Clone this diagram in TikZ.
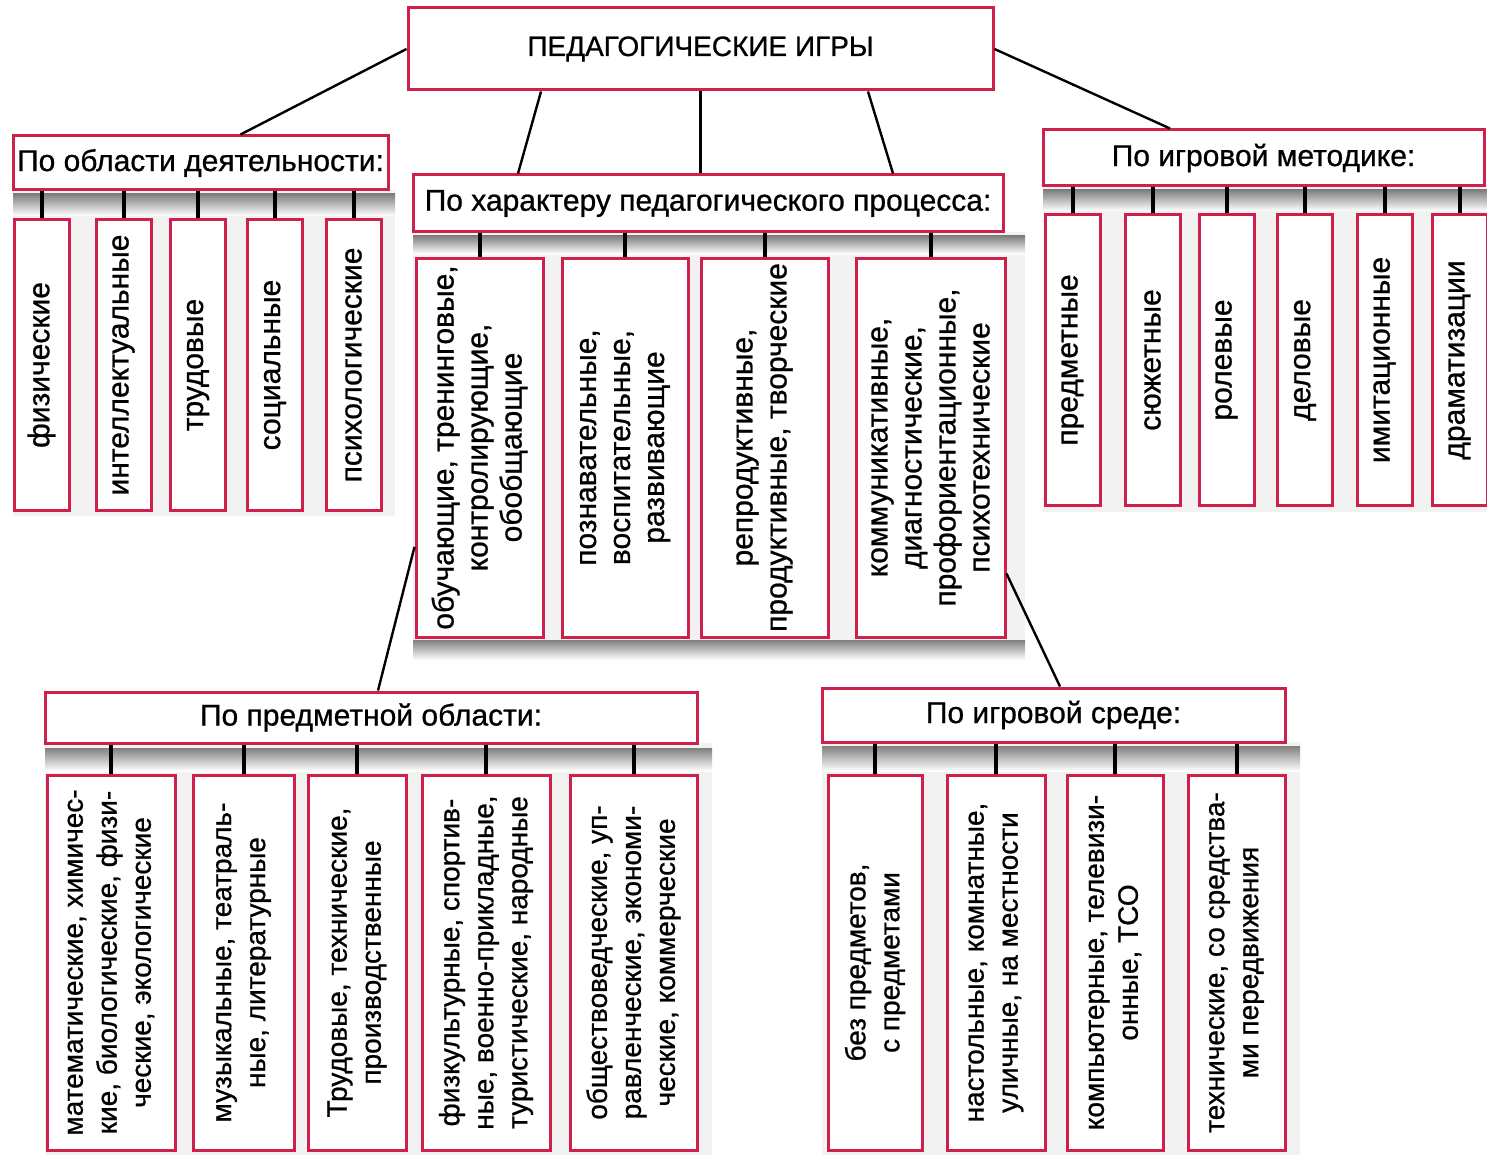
\documentclass[tikz,border=0pt]{standalone}
\usepackage{fontspec}
\setmainfont{Liberation Sans}[FakeBold=0.8]
\usetikzlibrary{calc}
\definecolor{boxred}{RGB}{206,32,74}
\definecolor{shade}{RGB}{200,204,200}

\begin{document}
\begin{tikzpicture}[x=0.5pt, y=-0.5pt,
		rootnode/.style={draw=boxred, line width=1.5pt, fill=white, minimum width=292.5pt, minimum height=41pt, font=\fontsize{14}{16}\selectfont},
		headnode/.style={draw=boxred, line width=1.5pt, fill=white, minimum height=27pt, inner sep=0pt, font=\fontsize{15}{17}\selectfont},
		itemnode/.style={draw=boxred, line width=1.5pt, fill=white, rotate=90, align=center, inner sep=0pt, font=\fontsize{15}{17}\selectfont},
		shortitem/.style={itemnode, minimum width=145pt, minimum height=27.5pt},
		longitem/.style={itemnode, minimum width=189.5pt},
		loweritem/.style={itemnode, minimum width=187.5pt, font=\fontsize{14}{17}\selectfont},
		link/.style={line width=1.2pt},
		tick/.style={line width=2pt},
		]
		\useasboundingbox[fill=white] (0,0) rectangle (1487,1155);
		
		%Shading
		\fill[gray!10] (13,190) rectangle (395,516);
		\fill[gray!10] (413,232) rectangle (1025,660);
		\fill[gray!10] (1043,186) rectangle (1487,512);
		\fill[gray!10] (45,743) rectangle (712,1155);
		\fill[gray!10] (822,742) rectangle (1300,1155);
		\fill[shade] (13,194) rectangle (395,216);
		\fill[shade] (413,236) rectangle (1025,254);
		\fill[shade] (413,640) rectangle (1025,660);
		\fill[shade] (1043,190) rectangle (1487,211);
		\fill[shade] (45,748) rectangle (712,771);
		\fill[shade] (822,746) rectangle (1300,771);
		
		%Nodes
		\node[rootnode] (root) at (700.5,49) {ПЕДАГОГИЧЕСКИЕ ИГРЫ};
		
		\node[headnode, minimum width=187.5pt] (hA) at (200.5,163) {По области деятельности:};
		\node[headnode, minimum width=295pt, minimum height=28.5pt] (hB) at (708,203.5) {По характеру педагогического процесса:};
		\node[headnode, minimum width=220.5pt, minimum height=28pt] (hC) at (1263.5,158) {По игровой методике:};
		\node[headnode, minimum width=326pt, minimum height=25.5pt] (hD) at (371,717.5) {По предметной области:};
		\node[headnode, minimum width=231.5pt] (hE) at (1053.5,715) {По игровой среде:};
		
		\node[shortitem] (a1) at (41.5,365) {физические};
		\node[shortitem] (a2) at (123.5,365) {интеллектуальные};
		\node[shortitem] (a3) at (198,365) {трудовые};
		\node[shortitem] (a4) at (275,365) {социальные};
		\node[shortitem] (a5) at (353.5,365) {психологические};
		
		\node[longitem, minimum height=63.5pt] (b1) at (479.5,447.5) {обучающие, тренинговые,\\ контролирующие,\\ обобщающие};
		\node[longitem, minimum height=63pt] (b2) at (625,447.5) {познавательные,\\ воспитательные,\\ развивающие};
		\node[longitem, minimum height=63.5pt] (b3) at (764.5,447.5) {репродуктивные,\\ продуктивные, творческие};
		\node[longitem, minimum height=74.5pt] (b4) at (930.5,447.5) {коммуникативные,\\ диагностические,\\ профориентационные,\\ психотехнические};
		
		\node[shortitem] (c1) at (1072.5,360) {предметные};
		\node[shortitem] (c2) at (1152.5,360) {сюжетные};
		\node[shortitem] (c3) at (1226.5,360) {ролевые};
		\node[shortitem] (c4) at (1305,360) {деловые};
		\node[shortitem] (c5) at (1384.5,360) {имитационные};
		\node[shortitem] (c6) at (1459.5,360) {драматизации};
		
		\node[loweritem, minimum height=64pt] (d1) at (111,962.5) {математические, химичес-\\ кие, биологические, физи-\\ ческие, экологические};
		\node[loweritem, minimum height=50.5pt] (d2) at (243.5,962.5) {музыкальные, театраль-\\ ные, литературные};
		\node[loweritem, minimum height=49pt] (d3) at (357,962.5) {Трудовые, технические,\\ производственные};
		\node[loweritem, minimum height=64pt] (d4) at (486,962.5) {физкультурные, спортив-\\ ные, военно-прикладные,\\ туристические, народные};
		\node[loweritem, minimum height=63.5pt] (d5) at (633.5,962.5) {обществоведческие, уп-\\ равленческие, экономи-\\ ческие, коммерческие};
		
		\node[loweritem, minimum height=47pt] (e1) at (875,962.5) {без предметов,\\ с предметами};
		\node[loweritem, minimum height=49pt] (e2) at (996,962.5) {настольные, комнатные,\\ уличные, на местности};
		\node[loweritem, minimum height=48pt] (e3) at (1115,962.5) {компьютерные, телевизи-\\ онные, ТСО};
		\node[loweritem, minimum height=48.5pt] (e4) at (1236.5,962.5) {технические, со средства-\\ ми передвижения};
		
		%Lines
		\draw[link] (root.west) -- ([xshift=20pt]hA.north);
		\draw[link] ([xshift=-79.75pt]root.south) -- ([xshift=-95pt]hB.north);
		\draw[link] (root.south) -- (root.south |- hB.north);
		\draw[link] ([xshift=83.75pt]root.south) -- ([xshift=92.5pt]hB.north);
		\draw[link] (root.east) -- ([xshift=-46.75pt]hC.north);
		\draw[link] ($(b1.north west)!0.24!(b1.north east)$) -- ([xshift=3.5pt]hD.north);
		\draw[link] ($(b4.south west)!0.17!(b4.south east)$) -- ([xshift=3.25pt]hE.north);
		
		\foreach \n in {a1,a2,a3,a4,a5} \draw[tick] (\n.east) -- (\n.east |- hA.south);
		\foreach \n in {b1,b2,b3,b4} \draw[tick] (\n.east) -- (\n.east |- hB.south);
		\foreach \n in {c1,c2,c3,c4,c5,c6} \draw[tick] (\n.east) -- (\n.east |- hC.south);
		\foreach \n in {d1,d2,d3,d4,d5} \draw[tick] (\n.east) -- (\n.east |- hD.south);
		\foreach \n in {e1,e2,e3,e4} \draw[tick] (\n.east) -- (\n.east |- hE.south);
		\end{tikzpicture}
\end{document}
